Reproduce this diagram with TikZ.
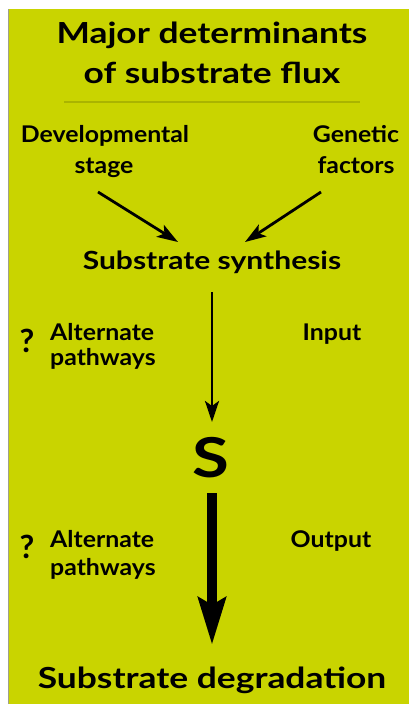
\documentclass[tikz,border=0pt]{standalone}
\usepackage{fontspec}
\setmainfont{Lato}
\newfontfamily\smallf[FakeStretch=1.08]{Lato}
\newfontfamily\synf[FakeStretch=1.2]{Lato}
\newfontfamily\ttlf[FakeStretch=1.22]{Lato}
\usetikzlibrary{arrows.meta}
\definecolor{bg}{RGB}{201,212,0}
\definecolor{rule}{RGB}{170,180,0}
\definecolor{edge}{RGB}{160,160,140}
\begin{document}
\begin{tikzpicture}[x=1pt,y=-1pt,
  lbl/.style={anchor=base,inner sep=0pt,font=\smallf\fontsize{23}{23}\selectfont\bfseries},
  syn/.style={anchor=base,inner sep=0pt,font=\synf\fontsize{25}{25}\selectfont\bfseries},
  ttl/.style={anchor=base,inner sep=0pt,font=\ttlf\fontsize{29}{29}\selectfont\bfseries},
  big/.style={anchor=base,inner sep=0pt,font=\ttlf\fontsize{55}{55}\selectfont\bfseries},
  qm/.style={anchor=center,inner sep=0pt,font=\fontsize{32}{32}\selectfont\bfseries},
  thin/.style={line width=2.8pt,-{Stealth[length=21pt,width=14pt,inset=5pt]}}]
\useasboundingbox (0,0) rectangle (409,704);
\fill[white] (0,0) rectangle (409,704);
\fill[bg] (8,9) rectangle (409,704);
\draw[edge,line width=1pt] (8.5,9) -- (8.5,704);
% title
\node[ttl] (t1) at (212,43) {Major determinants};
\node[ttl] (t2) at (212,83) {of substrate flux};
\draw[rule,line width=2pt] (64,102) -- (360,102);
% determinants
\node[lbl] (dev1) at (105,142) {Developmental};
\node[lbl] (dev2) at (104,173) {stage};
\node[lbl] (gen1) at (356,142) {Genetic};
\node[lbl] (gen2) at (356,173) {factors};
\node[syn] (syn) at (212,269) {Substrate synthesis};
\coordinate (a1s) at (98,192);
\coordinate (a1e) at (178,242);
\coordinate (a2s) at (321,192);
\coordinate (a2e) at (245,242);
\draw[thin] (a1s) -- (a1e);
\draw[thin] (a2s) -- (a2e);
% input
\coordinate (inS) at (212,292);
\coordinate (inE) at (212,422);
\draw[thin] (inS) -- (inE);
\node[qm] (q1) at (27,341) {?};
\node[lbl,anchor=base west] (alt1a) at (50,340) {Alternate};
\node[lbl,anchor=base west] (alt1b) at (50,365) {pathways};
\node[lbl] (inp) at (332,340) {Input};
% S
\node[big] (S) at (211,477) {S};
% output
\coordinate (outS) at (212,493);
\coordinate (outE) at (212,645);
\draw[line width=10.5pt,-{Stealth[length=47pt,width=27pt,inset=7pt]}] (outS) -- (outE);
\node[qm] (q2) at (27,547) {?};
\node[lbl,anchor=base west] (alt2a) at (50,547) {Alternate};
\node[lbl,anchor=base west] (alt2b) at (50,575) {pathways};
\node[lbl] (outp) at (331,547) {Output};
\node[ttl] (deg) at (212,688) {Substrate degradation};
\end{tikzpicture}
\end{document}
